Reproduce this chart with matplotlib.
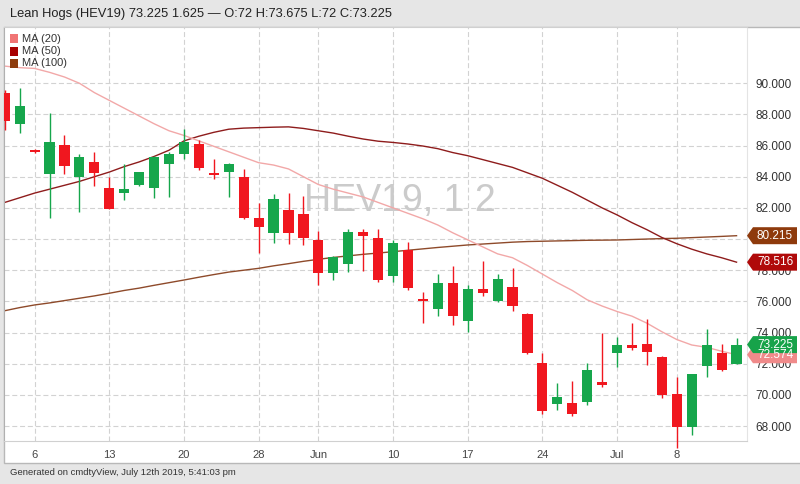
import matplotlib
matplotlib.use("Agg")
import matplotlib.pyplot as plt
from matplotlib.patches import Rectangle, Polygon

plt.rcParams['font.family'] = ['Liberation Sans', 'DejaVu Sans']

W, H = 800, 484

title = "Lean Hogs (HEV19) 73.225 1.625 \u2014 O:72 H:73.675 L:72 C:73.225"
footer = "Generated on cmdtyView, July 12th 2019, 5:41:03 pm"
watermark = "HEV19, 1 2"

# daily candles, May 2 .. Jul 12 2019 (trading days only)
opens = [89.36, 87.37, 85.72, 84.16, 86.02, 83.97, 84.95, 83.30, 82.98, 83.45,
         83.28, 84.80, 85.48, 86.10, 84.18, 84.33, 84.00, 81.35, 80.41, 81.87,
         81.61, 79.94, 77.84, 78.38, 80.47, 80.05, 77.63, 79.30, 76.05, 75.49,
         77.20, 74.76, 76.78, 76.05, 76.91, 75.19, 72.07, 69.42, 69.50, 69.56,
         70.85, 72.71, 73.20, 73.25, 72.45, 70.06, 67.92, 71.85, 72.71, 72.00]
highs = [89.57, 89.68, 85.75, 88.11, 86.70, 85.46, 85.59, 83.97, 84.82, 84.33,
         85.30, 85.57, 87.07, 86.36, 85.12, 84.88, 84.48, 82.30, 82.89, 82.94,
         82.77, 80.50, 78.90, 80.63, 80.63, 80.63, 79.94, 79.79, 76.62, 77.76,
         78.27, 77.05, 78.61, 77.74, 78.13, 75.25, 72.67, 70.74, 70.91, 72.07,
         73.95, 73.70, 74.63, 74.85, 72.50, 71.17, 71.35, 74.21, 73.25, 73.675]
lows = [87.00, 86.79, 85.55, 81.33, 84.16, 81.72, 83.41, 81.90, 82.51, 83.40,
        82.66, 82.70, 85.16, 84.44, 83.86, 82.72, 81.30, 79.13, 79.73, 79.69,
        79.62, 77.05, 77.37, 77.91, 77.97, 77.27, 77.27, 76.73, 74.63, 75.08,
        74.49, 74.02, 76.35, 75.99, 75.39, 72.65, 68.77, 69.03, 68.67, 69.35,
        70.49, 71.81, 72.88, 71.92, 69.78, 66.60, 67.42, 71.17, 71.55, 72.00]
closes = [87.60, 88.56, 85.57, 86.21, 84.69, 85.29, 84.26, 81.93, 83.22, 84.29,
          85.27, 85.44, 86.23, 84.58, 84.13, 84.82, 81.37, 80.80, 82.55, 80.41,
          80.05, 77.84, 78.87, 80.47, 80.22, 77.37, 79.73, 76.84, 76.00, 77.20,
          75.06, 76.78, 76.56, 77.42, 75.71, 72.71, 68.99, 69.88, 68.75, 71.60,
          70.64, 73.20, 72.99, 72.77, 69.99, 67.92, 71.35, 73.20, 71.60, 73.225]

ma20 = [91.10, 91.00, 90.95, 90.70, 90.40, 90.00, 89.40, 88.90, 88.40, 87.90,
        87.40, 86.95, 86.65, 86.30, 85.95, 85.60, 85.25, 84.90, 84.75, 84.50,
        84.00, 83.50, 83.20, 82.95, 82.70, 82.35, 82.00, 81.65, 81.30, 80.90,
        80.40, 79.95, 79.50, 79.05, 78.80, 78.30, 77.75, 77.20, 76.70, 76.10,
        75.70, 75.35, 75.05, 74.60, 74.05, 73.55, 73.20, 73.05, 72.80, 72.574]
ma50 = [82.35, 82.65, 82.95, 83.20, 83.45, 83.70, 84.00, 84.30, 84.65, 84.95,
        85.30, 85.70, 86.30, 86.60, 86.85, 87.05, 87.12, 87.15, 87.18, 87.20,
        87.10, 86.95, 86.80, 86.60, 86.42, 86.28, 86.20, 86.10, 85.97, 85.80,
        85.55, 85.35, 85.10, 84.85, 84.60, 84.25, 83.90, 83.45, 83.00, 82.50,
        82.00, 81.55, 81.05, 80.60, 80.10, 79.70, 79.35, 79.05, 78.80, 78.516]
ma100 = [75.40, 75.60, 75.77, 75.90, 76.05, 76.20, 76.35, 76.52, 76.70, 76.85,
         77.03, 77.20, 77.37, 77.55, 77.72, 77.88, 78.00, 78.12, 78.28, 78.42,
         78.57, 78.70, 78.82, 78.92, 79.02, 79.10, 79.19, 79.28, 79.37, 79.46,
         79.54, 79.62, 79.68, 79.74, 79.80, 79.84, 79.86, 79.88, 79.90, 79.92,
         79.93, 79.94, 79.97, 80.00, 80.03, 80.05, 80.09, 80.13, 80.17, 80.215]

tick_pos = [2, 7, 12, 17, 21, 26, 31, 36, 41, 45]
tick_labels = ['6', '13', '20', '28', 'Jun', '10', '17', '24', 'Jul', '8']
y_ticks = [68, 70, 72, 74, 76, 78, 80, 82, 84, 86, 88, 90]

ma_names = ['MA (20)', 'MA (50)', 'MA (100)']
ma_swatch = ['#f07474', '#a80000', '#8e3a0c']
ma_line = ['#f2a8a8', '#8e1c1c', '#8e4a2a']
tags = [(72.574, '#f08a8a'), (80.215, '#8e3a0c'), (78.516, '#b00a0a'), (73.225, '#17a34a')]

GREEN = '#16a64c'
RED = '#f0171f'

fig = plt.figure(figsize=(W / 100, H / 100), dpi=100, facecolor='#e6e6e6')

# background layer in pixel coordinates
bg = fig.add_axes([0, 0, 1, 1], zorder=0)
bg.set_xlim(0, W)
bg.set_ylim(H, 0)
bg.axis('off')
bg.add_patch(Rectangle((4, 27), W - 3, 436, facecolor='white', edgecolor='#b8b8b8', lw=1))
bg.text(10, 13.5, title, fontsize=9.3, color='#222222', va='center')
bg.text(10, 472.5, footer, fontsize=6.8, color='#333333', va='center')

ax = fig.add_axes([4 / W, 1 - 440.5 / H, 743 / W, 413.5 / H], zorder=1)
ax.set_xlim(-0.05, 49.7)
ax.set_ylim(67.07, 93.61)
ax.set_axisbelow(True)
ax.grid(True, color='#d2d2d2', lw=0.8, dashes=(4.5, 2.5))

xs = list(range(len(opens)))
ax.text(0.533, 0.579, watermark, transform=ax.transAxes, fontsize=27,
        color='#cbcbcb', ha='center', va='center', zorder=1)

for vals, col in zip([ma100, ma50, ma20], [ma_line[2], ma_line[1], ma_line[0]]):
    ax.plot(xs, vals, color=col, lw=1, zorder=2)

cols = [GREEN if c > o else RED for o, c in zip(opens, closes)]
ax.vlines(xs, lows, highs, colors=cols, lw=1, zorder=3, clip_on=False)
ax.bar(xs, [max(abs(c - o), 0.12) for o, c in zip(opens, closes)],
       bottom=[min(o, c) for o, c in zip(opens, closes)],
       width=0.68, color=cols, zorder=4)

ax.set_xticks(tick_pos)
ax.set_xticklabels(tick_labels)
ax.yaxis.tick_right()
ax.set_yticks(y_ticks)
ax.set_yticklabels([f"{v:.3f}" for v in y_ticks])
ax.tick_params(axis='x', length=0, pad=7, labelsize=8, labelcolor='#444444')
ax.tick_params(axis='y', length=0, pad=6, labelsize=8.5, labelcolor='#333333')
for side in ['top', 'bottom']:
    ax.spines[side].set_color('#d0d0d0')
ax.spines['right'].set_color('#e4e4e4')
ax.spines['left'].set_color('#b0b0b0')

# legend and price tags on top, pixel coordinates
ov = fig.add_axes([0, 0, 1, 1], zorder=3)
ov.set_xlim(0, W)
ov.set_ylim(H, 0)
ov.axis('off')
ov.patch.set_alpha(0)

for k, (name, col) in enumerate(zip(ma_names, ma_swatch)):
    yc = 38.5 + 12.5 * k
    ov.add_patch(Rectangle((10, yc - 4.5), 7.5, 9, facecolor=col, edgecolor='none'))
    ov.text(22.5, yc, name, fontsize=8, color='#333333', va='center')

for val, col in tags:
    yp = H - ax.transData.transform((0, val))[1]
    ov.add_patch(Polygon([(747, yp), (753, yp - 8.5), (797, yp - 8.5), (797, yp + 8.5), (753, yp + 8.5)],
                         closed=True, facecolor=col, edgecolor='none'))
    ov.text(775, yp, f"{val:.3f}", fontsize=8.5, color='white', ha='center', va='center')

fig.savefig('out.png', dpi=100, facecolor=fig.get_facecolor())
